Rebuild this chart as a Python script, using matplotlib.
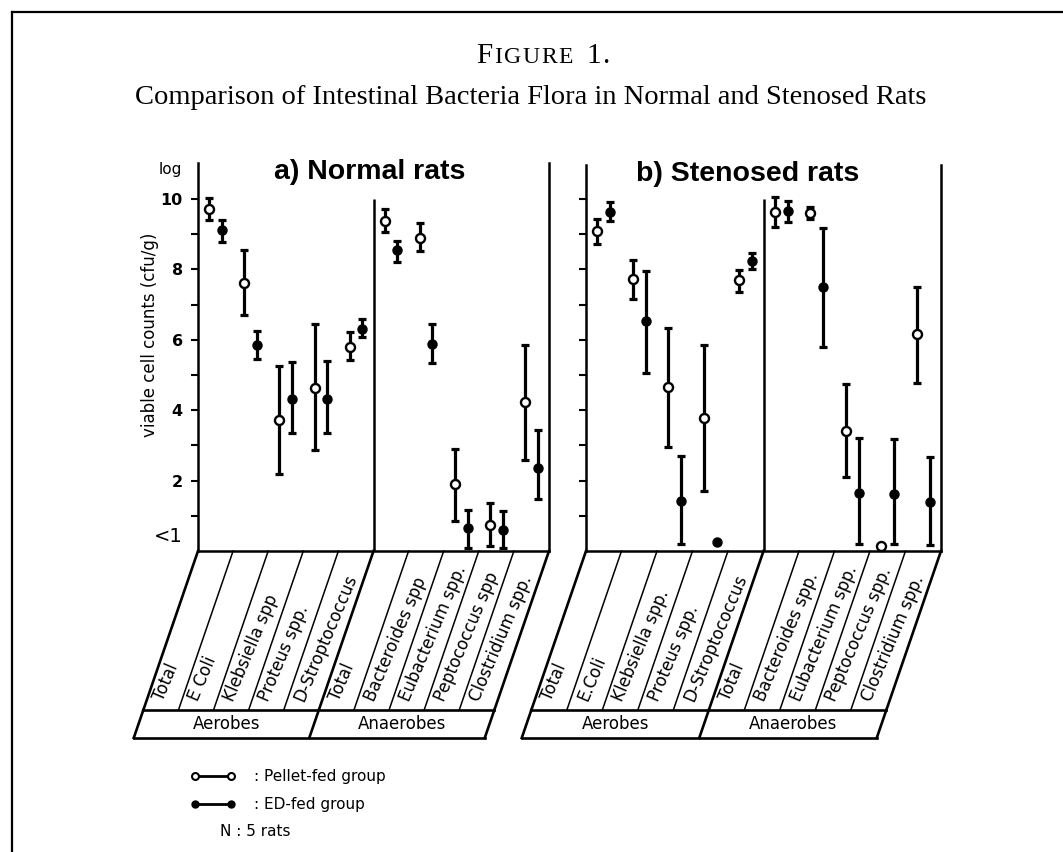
import numpy as np
import matplotlib
matplotlib.use("Agg")
import matplotlib.pyplot as plt
from matplotlib.lines import Line2D

# ---------data (log cfu/g)---------
nan = np.nan
labels_a = ["Total", "E Coli", "Klebsiella spp", "Proteus spp.", "D-Stroptococcus",
            "Total", "Bacteroides spp", "Eubacterium spp.", "Peptococcus spp", "Clostridium spp."]
labels_b = ["Total", "E.Coli", "Klebsiella spp.", "Proteus spp.", "D-Stroptococcus",
            "Total", "Bacteroides spp.", "Eubacterium spp.", "Peptococcus spp.", "Clostridium spp."]
groups = ["Aerobes", "Anaerobes"]

# a) normal rats
pellet_a = [9.72, 7.61, 3.72, 4.63, 5.80, 9.38, 8.89, 1.90, 0.74, 4.23]
pellet_a_lo = [9.40, 6.70, 2.19, 2.87, 5.43, 9.06, 8.52, 0.85, 0.14, 2.59]
pellet_a_hi = [10.03, 8.55, 5.26, 6.45, 6.22, 9.72, 9.31, 2.90, 1.36, 5.85]
ed_a = [9.12, 5.85, 4.32, 4.32, 6.31, 8.55, 5.88, 0.65, 0.60, 2.36]
ed_a_lo = [8.78, 5.45, 3.35, 3.35, 6.08, 8.21, 5.34, 0.08, 0.08, 1.48]
ed_a_hi = [9.40, 6.25, 5.37, 5.40, 6.59, 8.80, 6.45, 1.16, 1.14, 3.44]

# b) stenosed rats
pellet_b = [9.09, 7.73, 4.66, 3.78, 7.70, 9.63, 9.60, 3.41, 0.14, 6.16]
pellet_b_lo = [8.72, 7.16, 2.95, 1.70, 7.36, 9.20, 9.43, 2.10, nan, 4.77]
pellet_b_hi = [9.43, 8.27, 6.34, 5.85, 7.98, 10.06, 9.77, 4.74, nan, 7.50]
ed_b = [9.63, 6.53, 1.42, 0.26, 8.24, 9.66, 7.50, 1.65, 1.62, 1.39]
ed_b_lo = [9.38, 5.06, 0.20, nan, 8.01, 9.35, 5.80, 0.20, 0.20, 0.17]
ed_b_hi = [9.91, 7.95, 2.70, nan, 8.47, 9.94, 9.18, 3.21, 3.18, 2.67]

# ---------figure---------
W, H = 1063, 852
fig = plt.figure(figsize=(W / 100, H / 100), dpi=100)
plt.rcParams['font.family'] = ['DejaVu Sans']

def px_axes(x0, y0, x1, y1):   # pixel box, origin top-left
    return fig.add_axes([x0 / W, 1 - y1 / H, (x1 - x0) / W, (y1 - y0) / H])

Y0 = 551          # pixel row of value 0
PXV = 35.2        # pixels per log unit
SLANT = 55 / 160  # table slant, dx per depth

def draw_panel(x0, x1, top, title, tx, labels, pm, plo, phi, em, elo, ehi, show_labels):
    ax = px_axes(x0, top, x1, Y0)
    n = len(labels)
    ax.set_xlim(0, n)
    ax.set_ylim(0, (Y0 - top) / PXV)
    ax.patch.set_alpha(0)
    ax.spines['top'].set_visible(False)
    for s in ['left', 'right', 'bottom']:
        ax.spines[s].set_linewidth(1.8)
    ax.set_xticks([])
    ax.set_yticks(range(1, 11))
    ax.tick_params(axis='y', direction='out', length=5, width=1.5, pad=6)
    if show_labels:
        ax.set_yticklabels(['', '2', '', '4', '', '6', '', '8', '', '10'],
                           fontsize=11.5, fontweight='bold')
        ax.text(-0.045, 0.4, '<1', transform=ax.get_yaxis_transform(),
                ha='right', va='center', fontsize=14)
        ax.text(-0.045, 11.0 - 0.15, 'log', transform=ax.get_yaxis_transform(),
                ha='right', va='center', fontsize=11)
    else:
        ax.set_yticklabels([])
    ax.vlines(n / 2, 0, 10, color='k', lw=1.8)

    xs = np.arange(n) + 0.5
    off = 0.18
    pm, plo, phi = map(np.array, (pm, plo, phi))
    em, elo, ehi = map(np.array, (em, elo, ehi))
    ax.errorbar(xs - off, pm, yerr=[pm - plo, phi - pm], fmt='none', ecolor='k',
                elinewidth=2.3, capsize=3, capthick=2.3, clip_on=False)
    ax.errorbar(xs + off, em, yerr=[em - elo, ehi - em], fmt='none', ecolor='k',
                elinewidth=2.3, capsize=3, capthick=2.3, clip_on=False)
    ax.plot(xs - off, pm, 'o', ms=6.5, mfc='white', mec='k', mew=1.7, zorder=3, clip_on=False)
    ax.plot(xs + off, em, 'o', ms=6.5, mfc='k', mec='k', zorder=3, clip_on=False)
    ax.text(tx, 1 - 9 / (Y0 - top), title, transform=ax.transAxes, ha='center', va='center',
            fontsize=20.5, fontweight='bold', family='Liberation Sans')

    # ---------slanted label table---------
    u = (x1 - x0) / n
    tb = px_axes(x0 - 80, Y0, x1, Y0 + 195)
    tb.set_xlim(-80 / u, n)
    tb.set_ylim(-195 / u, 0)
    tb.axis('off')
    d1, d2 = 159 / u, 187 / u
    for k in range(n + 1):
        lw = 1.9 if k in (0, n // 2, n) else 1.1
        tb.plot([k, k - SLANT * d1], [0, -d1], color='k', lw=lw, clip_on=False)
    tb.plot([-SLANT * d1, n - SLANT * d1], [-d1, -d1], color='k', lw=1.9, clip_on=False)
    tb.plot([-SLANT * d2, n - SLANT * d2], [-d2, -d2], color='k', lw=1.9, clip_on=False)
    for k in (0, n // 2, n):
        tb.plot([k - SLANT * d1, k - SLANT * d2], [-d1, -d2], color='k', lw=1.9, clip_on=False)
    dt = 149 / u
    for k, lab in enumerate(labels):
        tb.text(k - SLANT * dt + 0.34, -dt, lab, rotation=67, rotation_mode='anchor',
                ha='left', va='center', fontsize=12)
    dm = (d1 + d2) / 2
    for g, name in enumerate(groups):
        tb.text(g * n / 2 + n / 4 - SLANT * dm, -dm, name, ha='center', va='center', fontsize=12)
    return ax

ax_a = draw_panel(198, 549, 163, "a) Normal rats", 0.49, labels_a,
                  pellet_a, pellet_a_lo, pellet_a_hi, ed_a, ed_a_lo, ed_a_hi, True)
ax_b = draw_panel(586, 941, 165, "b) Stenosed rats", 0.454, labels_b,
                  pellet_b, pellet_b_lo, pellet_b_hi, ed_b, ed_b_lo, ed_b_hi, False)

fig.text(150 / W, 1 - 335 / H, "viable cell counts (cfu/g)", rotation=90,
         ha='center', va='center', fontsize=12)

# ---------titles---------
fig.text(531 / W, 1 - 98 / H, "Comparison of Intestinal Bacteria Flora in Normal and Stenosed Rats",
         ha='center', va='center', fontsize=20.5, family='Liberation Serif')

# small caps "FIGURE 1." drawn letter by letter
renderer = fig.canvas.get_renderer()
chars = [("F", 21), ("I", 17), ("G", 17), ("U", 17), ("R", 17), ("E", 17), ("1", 21), (".", 21)]
gaps = [0, 1.5, 1.5, 1.5, 1.5, 1.5, 14, 1]
texts, widths = [], []
for s, fs in chars:
    t = fig.text(0, 1 - 63 / H, s, fontsize=fs, family='Liberation Serif', va='baseline')
    texts.append(t)
    widths.append(t.get_window_extent(renderer).width)
total = sum(widths) + sum(gaps)
x = 543 - total / 2
for t, w, g in zip(texts, widths, gaps):
    x += g
    t.set_x(x / W)
    x += w

# ---------legend---------
h_open = Line2D([], [], color='k', lw=2, marker='o', ms=5, mfc='white', mec='k', mew=1.5)
h_fill = Line2D([], [], color='k', lw=2, marker='o', ms=5, mfc='k', mec='k')
fig.legend([h_open, h_fill], [": Pellet-fed group", ": ED-fed group"], loc='upper left',
           bbox_to_anchor=(190 / W, 1 - 769 / H), frameon=False, numpoints=2,
           handlelength=3.0, handletextpad=1.2, labelspacing=0.85, borderpad=0,
           borderaxespad=0, fontsize=11)
fig.text(220 / W, 1 - 832 / H, "N : 5 rats", ha='left', va='center', fontsize=11)

# ---------outer frame---------
fig.add_artist(Line2D([12 / W, 12 / W], [0, 1 - 12 / H], color='k', lw=1.6))
fig.add_artist(Line2D([12 / W, 1], [1 - 12 / H, 1 - 12 / H], color='k', lw=1.6))

fig.savefig("out.png", dpi=100)
